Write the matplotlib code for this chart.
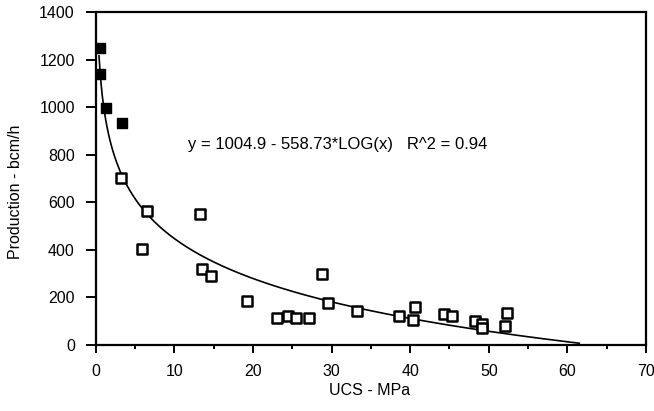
import numpy as np
import matplotlib.pyplot as plt
from matplotlib.ticker import MultipleLocator

plt.rcParams['font.family'] = ['Liberation Sans', 'DejaVu Sans']

# filled squares (low UCS)
ucs_filled = [0.5, 0.5, 1.3, 3.3]
prod_filled = [1250, 1140, 995, 932]

# open squares
ucs_open = [3.2, 6.5, 5.9, 13.3, 13.5, 14.7, 19.3, 23.1, 24.4, 25.5, 27.1,
            28.8, 29.5, 33.2, 38.6, 40.6, 40.3, 44.3, 45.3, 48.3, 49.2, 49.2,
            52.3, 52.1]
prod_open = [702, 563, 402, 550, 317, 288, 182, 111, 118, 111, 111,
             295, 173, 141, 118, 156, 104, 127, 120, 97, 85, 70,
             134, 80]

# fitted log curve
a, b = 1004.9, 558.73
x_fit = np.linspace(0.42, 61.5, 300)
y_fit = a - b * np.log10(x_fit)
keep = y_fit >= 0

fig = plt.figure(figsize=(6.54, 4.11), dpi=100)
ax = fig.add_axes([0.1463, 0.1618, 0.8415, 0.809])

ax.plot(x_fit[keep], y_fit[keep], color='black', lw=1.2, zorder=2)
ax.scatter(ucs_filled, prod_filled, marker='s', s=55, color='black', zorder=3)
ax.scatter(ucs_open, prod_open, marker='s', s=50, facecolor='white',
           edgecolor='black', linewidths=1.8, zorder=3)

ax.text(11.7, 842, "y = 1004.9 - 558.73*LOG(x)   R^2 = 0.94", fontsize=12,
        va='center', ha='left')

ax.set_xlim(0, 70)
ax.set_ylim(0, 1400)
ax.xaxis.set_major_locator(MultipleLocator(10))
ax.xaxis.set_minor_locator(MultipleLocator(5))
ax.yaxis.set_major_locator(MultipleLocator(200))

for s in ax.spines.values():
    s.set_linewidth(1.6)
ax.tick_params(axis='x', which='major', direction='out', length=6,
               width=1.4, labelsize=11.5, pad=8)
ax.tick_params(axis='y', which='major', direction='out', length=7,
               width=1.4, labelsize=11.5, pad=8)
ax.tick_params(axis='x', which='minor', direction='out', length=3, width=1.4)

ax.set_xlabel("UCS - MPa", fontsize=11.5)
ax.set_ylabel("Production - bcm/h", fontsize=11.5)
ax.xaxis.set_label_coords(0.498, -0.139)
ax.yaxis.set_label_coords(-0.146, 0.46)
ax.xaxis.label.set_va('center')
ax.yaxis.label.set_va('center')

fig.savefig("out.png", dpi=100)
